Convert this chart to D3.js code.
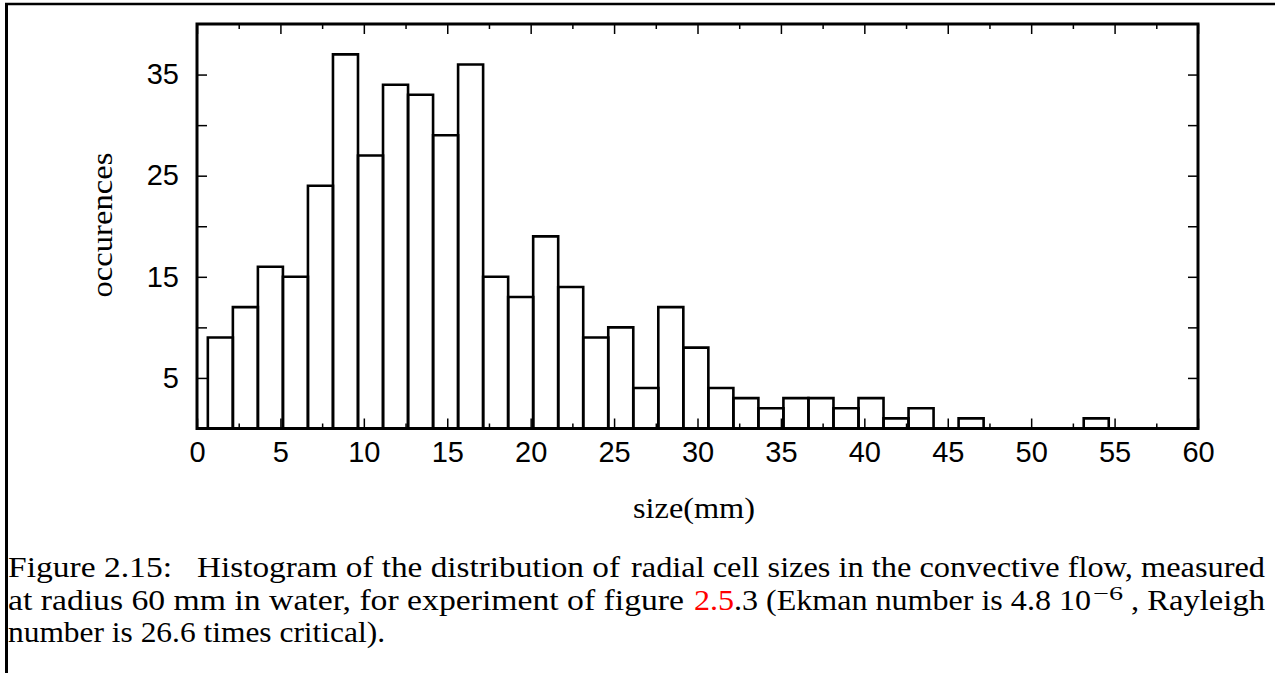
<!DOCTYPE html>
<html><head><meta charset="utf-8">
<script src="https://cdn.jsdelivr.net/npm/d3@7"></script>
<style>body{margin:0;background:#fff;overflow:hidden}</style></head>
<body>
<svg id="c" width="1275" height="673"></svg>
<script>
// ---- data ----
const binCenters = [1.4, 2.9, 4.4, 5.9, 7.4, 8.9, 10.4, 11.9, 13.4, 14.9, 16.4, 17.9, 19.4, 20.9,
  22.4, 23.9, 25.4, 26.9, 28.4, 29.9, 31.4, 32.9, 34.4, 35.9, 37.4, 38.9, 40.4, 41.9, 43.4, 44.9,
  46.4, 47.9, 49.4, 50.9, 52.4, 53.9, 55.4, 56.9];
const counts = [9, 12, 16, 15, 24, 37, 27, 34, 33, 29, 36, 15, 13, 19,
  14, 9, 10, 4, 12, 8, 4, 3, 2, 3, 3, 2, 3, 1, 2, 0,
  1, 0, 0, 0, 0, 1, 0, 0];
const binWidth = 1.5;
const xMajorTicks = [0, 5, 10, 15, 20, 25, 30, 35, 40, 45, 50, 55, 60];
const xMinorTicks = [2.5, 7.5, 12.5, 17.5, 22.5, 27.5, 32.5, 37.5, 42.5, 47.5, 52.5, 57.5];
const yTicks = [5, 10, 15, 20, 25, 30, 35];
const yTickLabels = [5, 15, 25, 35];
const xTitle = "size(mm)";
const yTitle = "occurences";

// ---- drawing ----
const svg = d3.select("#c");
const m = {l: 197, r: 1198, t: 24, b: 428.5};
const x = d3.scaleLinear().domain([0, 60]).range([m.l, m.r]);
const y = d3.scaleLinear().domain([0, 40]).range([m.b, m.t]);

// page frame lines
svg.append("line").attr("x1", 5).attr("x2", 1275).attr("y1", 4).attr("y2", 4)
  .attr("stroke", "#000").attr("stroke-width", 2.5);
svg.append("line").attr("x1", 6.5).attr("x2", 6.5).attr("y1", 3).attr("y2", 673)
  .attr("stroke", "#000").attr("stroke-width", 3);

// bars
svg.append("g").selectAll("path").data(binCenters).join("path")
  .attr("d", (c, i) => {
    const x0 = x(c - binWidth / 2), x1 = x(c + binWidth / 2), y0 = y(0), y1 = y(counts[i]);
    return `M${x0},${y0}V${y1}H${x1}V${y0}Z`;
  })
  .attr("fill", "none").attr("stroke", "#000").attr("stroke-width", 2.6)
  .attr("stroke-linejoin", "miter");

function styleAxis(g) {
  g.select(".domain").remove();
  g.selectAll("line").attr("stroke", "#000").attr("stroke-width", 1.5);
  g.attr("font-family", "'Liberation Sans', Arial, sans-serif").attr("font-size", 29);
  g.selectAll("text").attr("fill", "#000");
}

// bottom
svg.append("g").attr("transform", `translate(0,${m.b})`)
  .call(d3.axisBottom(x).tickValues(xMajorTicks).tickSize(-10).tickPadding(13).tickFormat(d => d))
  .call(styleAxis);
svg.append("g").attr("transform", `translate(0,${m.b})`)
  .call(d3.axisBottom(x).tickValues(xMinorTicks).tickSize(-5).tickFormat(""))
  .call(styleAxis);
// top
svg.append("g").attr("transform", `translate(0,${m.t})`)
  .call(d3.axisTop(x).tickValues(xMajorTicks).tickSize(-10).tickFormat(""))
  .call(styleAxis);
svg.append("g").attr("transform", `translate(0,${m.t})`)
  .call(d3.axisTop(x).tickValues(xMinorTicks).tickSize(-5).tickFormat(""))
  .call(styleAxis);
// left
svg.append("g").attr("transform", `translate(${m.l},0)`)
  .call(d3.axisLeft(y).tickValues(yTicks).tickSize(-10).tickPadding(18)
    .tickFormat(d => yTickLabels.includes(d) ? d : ""))
  .call(styleAxis);
// right
svg.append("g").attr("transform", `translate(${m.r},0)`)
  .call(d3.axisRight(y).tickValues(yTicks).tickSize(-10).tickFormat(""))
  .call(styleAxis);

// plot frame
svg.append("rect").attr("x", m.l).attr("y", m.t).attr("width", m.r - m.l).attr("height", m.b - m.t)
  .attr("fill", "none").attr("stroke", "#000").attr("stroke-width", 3);

// axis titles
const serif = "'Liberation Serif', 'Times New Roman', serif";
svg.append("text").attr("x", 694).attr("y", 518).attr("text-anchor", "middle")
  .attr("font-family", serif).attr("font-size", 29)
  .attr("textLength", 122).attr("lengthAdjust", "spacingAndGlyphs").text(xTitle);
svg.append("text").attr("transform", "translate(112,225) rotate(-90)").attr("text-anchor", "middle")
  .attr("font-family", serif).attr("font-size", 29)
  .attr("textLength", 145).attr("lengthAdjust", "spacingAndGlyphs").text(yTitle);

// caption (justified segments)
const cap = svg.append("g").attr("font-family", serif).attr("font-size", 29).attr("fill", "#000");
function seg(x0, x1, yb, str) {
  return cap.append("text").attr("x", x0).attr("y", yb).attr("textLength", x1 - x0)
    .attr("lengthAdjust", "spacingAndGlyphs").text(str);
}
seg(8, 172, 577, "Figure 2.15:");
seg(197, 620, 577, "Histogram of the distribution of");
seg(631, 1265, 577, "radial cell sizes in the convective flow, measured");
seg(8, 684, 610, "at radius 60 mm in water, for experiment of figure");
const s2 = cap.append("text").attr("x", 694).attr("y", 610).attr("textLength", 1091 - 694)
  .attr("lengthAdjust", "spacingAndGlyphs");
s2.append("tspan").attr("fill", "#f00").text("2.5");
s2.append("tspan").text(".3 (Ekman number is 4.8 10");
cap.append("text").attr("x", 1093).attr("y", 600).attr("font-size", 19)
  .attr("textLength", 30).attr("lengthAdjust", "spacingAndGlyphs").text("\u22126");
seg(1131, 1265, 610, ", Rayleigh");
seg(8, 385, 642, "number is 26.6 times critical).");
</script>
</body></html>
